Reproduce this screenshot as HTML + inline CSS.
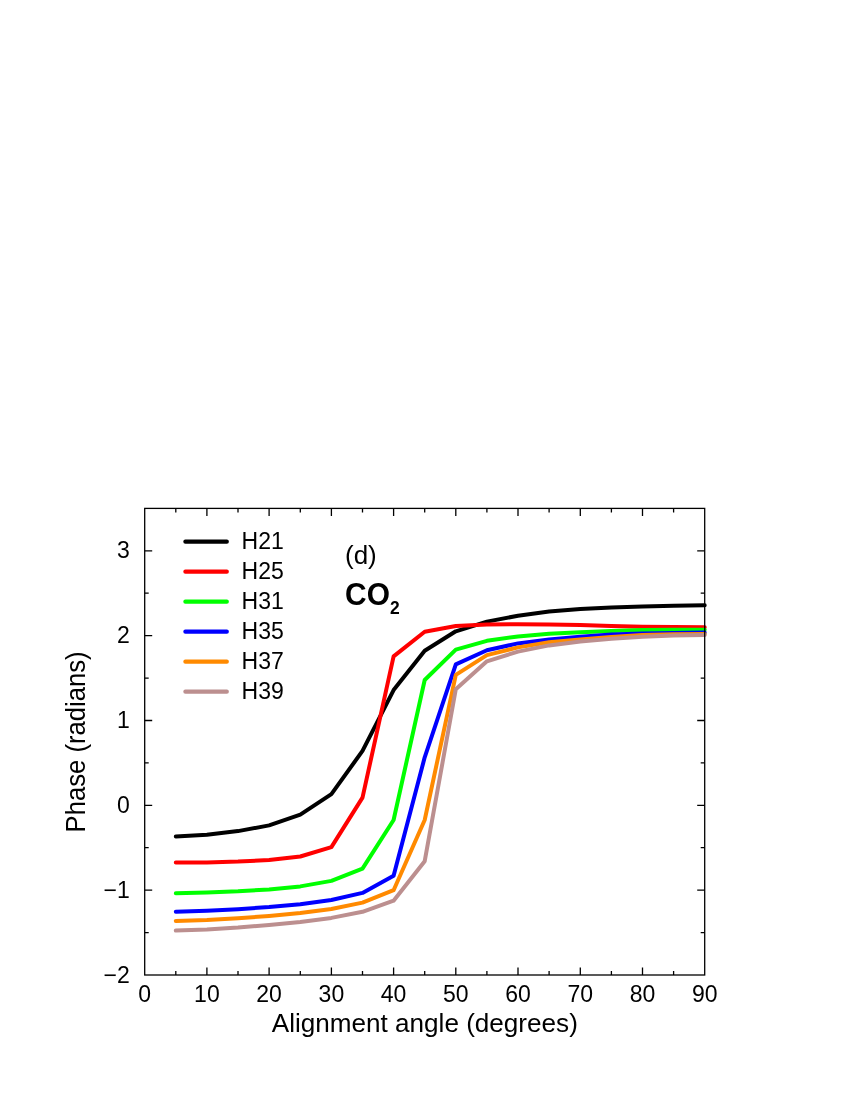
<!DOCTYPE html>
<html><head><meta charset="utf-8"><title>Phase vs alignment angle</title>
<style>
html,body{margin:0;padding:0;background:#fff;}
body{width:850px;height:1100px;overflow:hidden;font-family:"Liberation Sans",sans-serif;}
svg{display:block;will-change:transform;}
text{font-family:"Liberation Sans",sans-serif;fill:#000;}
</style></head><body>
<svg width="850" height="1100" viewBox="0 0 850 1100">
<rect x="0" y="0" width="850" height="1100" fill="#ffffff"/>
<g stroke="#000" stroke-width="1.30" fill="none" stroke-linecap="butt">
<path d="M175.8 975.0v-4.0M175.8 508.4v4.0"/>
<path d="M206.9 975.0v-7.5M206.9 508.4v7.5"/>
<path d="M238.0 975.0v-4.0M238.0 508.4v4.0"/>
<path d="M269.1 975.0v-7.5M269.1 508.4v7.5"/>
<path d="M300.3 975.0v-4.0M300.3 508.4v4.0"/>
<path d="M331.4 975.0v-7.5M331.4 508.4v7.5"/>
<path d="M362.5 975.0v-4.0M362.5 508.4v4.0"/>
<path d="M393.6 975.0v-7.5M393.6 508.4v7.5"/>
<path d="M424.7 975.0v-4.0M424.7 508.4v4.0"/>
<path d="M455.8 975.0v-7.5M455.8 508.4v7.5"/>
<path d="M486.9 975.0v-4.0M486.9 508.4v4.0"/>
<path d="M518.0 975.0v-7.5M518.0 508.4v7.5"/>
<path d="M549.1 975.0v-4.0M549.1 508.4v4.0"/>
<path d="M580.3 975.0v-7.5M580.3 508.4v7.5"/>
<path d="M611.4 975.0v-4.0M611.4 508.4v4.0"/>
<path d="M642.5 975.0v-7.5M642.5 508.4v7.5"/>
<path d="M673.6 975.0v-4.0M673.6 508.4v4.0"/>
<path d="M144.7 932.6h4.0M704.7 932.6h-4.0"/>
<path d="M144.7 890.2h7.5M704.7 890.2h-7.5"/>
<path d="M144.7 847.7h4.0M704.7 847.7h-4.0"/>
<path d="M144.7 805.3h7.5M704.7 805.3h-7.5"/>
<path d="M144.7 762.9h4.0M704.7 762.9h-4.0"/>
<path d="M144.7 720.5h7.5M704.7 720.5h-7.5"/>
<path d="M144.7 678.1h4.0M704.7 678.1h-4.0"/>
<path d="M144.7 635.6h7.5M704.7 635.6h-7.5"/>
<path d="M144.7 593.2h4.0M704.7 593.2h-4.0"/>
<path d="M144.7 550.8h7.5M704.7 550.8h-7.5"/>
</g>
<polyline points="175.8,836.5 206.9,834.8 238.0,831.1 269.1,825.4 300.3,814.6 331.4,794.1 362.5,750.9 393.6,690.1 424.7,650.8 455.8,631.3 486.9,621.6 518.0,615.7 549.1,611.6 580.3,609.1 611.4,607.4 642.5,606.4 673.6,605.7 704.7,605.3" fill="none" stroke="#000000" stroke-width="4.00" stroke-linecap="round" stroke-linejoin="round"/>
<polyline points="175.8,862.6 206.9,862.4 238.0,861.6 269.1,860.0 300.3,856.5 331.4,847.1 362.5,797.6 393.6,656.4 424.7,631.7 455.8,626.0 486.9,624.5 518.0,624.2 549.1,624.6 580.3,625.0 611.4,626.0 642.5,626.8 673.6,627.1 704.7,627.3" fill="none" stroke="#ff0000" stroke-width="4.00" stroke-linecap="round" stroke-linejoin="round"/>
<polyline points="175.8,893.2 206.9,892.5 238.0,891.3 269.1,889.4 300.3,886.4 331.4,880.9 362.5,868.7 393.6,820.0 424.7,680.0 455.8,649.6 486.9,640.8 518.0,636.4 549.1,633.8 580.3,632.2 611.4,630.9 642.5,630.0 673.6,629.8 704.7,629.7" fill="none" stroke="#00ff00" stroke-width="4.00" stroke-linecap="round" stroke-linejoin="round"/>
<polyline points="175.8,911.8 206.9,910.8 238.0,909.2 269.1,907.1 300.3,904.2 331.4,900.0 362.5,892.9 393.6,875.8 424.7,757.3 455.8,664.4 486.9,650.2 518.0,643.4 549.1,639.4 580.3,636.8 611.4,634.6 642.5,633.4 673.6,633.0 704.7,632.6" fill="none" stroke="#0000ff" stroke-width="4.00" stroke-linecap="round" stroke-linejoin="round"/>
<polyline points="175.8,920.9 206.9,920.1 238.0,918.3 269.1,916.0 300.3,913.0 331.4,909.0 362.5,902.6 393.6,890.2 424.7,820.0 455.8,674.9 486.9,655.1 518.0,647.4 549.1,642.3 580.3,639.4 611.4,637.0 642.5,635.1 673.6,634.2 704.7,633.9" fill="none" stroke="#ff8a00" stroke-width="4.00" stroke-linecap="round" stroke-linejoin="round"/>
<polyline points="175.8,930.6 206.9,929.4 238.0,927.5 269.1,924.9 300.3,921.9 331.4,917.9 362.5,911.8 393.6,900.7 424.7,861.2 455.8,689.2 486.9,661.3 518.0,651.6 549.1,645.4 580.3,641.4 611.4,638.7 642.5,636.7 673.6,635.6 704.7,634.9" fill="none" stroke="#bc8f8f" stroke-width="4.00" stroke-linecap="round" stroke-linejoin="round"/>
<rect x="144.7" y="508.4" width="560.0" height="466.6" fill="none" stroke="#000" stroke-width="1.30"/>
<line x1="185.4" y1="541.7" x2="226.8" y2="541.7" stroke="#000000" stroke-width="4.20" stroke-linecap="round"/>
<text x="241.6" y="549.4" font-size="23">H21</text>
<line x1="185.4" y1="571.7" x2="226.8" y2="571.7" stroke="#ff0000" stroke-width="4.20" stroke-linecap="round"/>
<text x="241.6" y="579.4" font-size="23">H25</text>
<line x1="185.4" y1="601.7" x2="226.8" y2="601.7" stroke="#00ff00" stroke-width="4.20" stroke-linecap="round"/>
<text x="241.6" y="609.4" font-size="23">H31</text>
<line x1="185.4" y1="631.7" x2="226.8" y2="631.7" stroke="#0000ff" stroke-width="4.20" stroke-linecap="round"/>
<text x="241.6" y="639.4" font-size="23">H35</text>
<line x1="185.4" y1="661.7" x2="226.8" y2="661.7" stroke="#ff8a00" stroke-width="4.20" stroke-linecap="round"/>
<text x="241.6" y="669.4" font-size="23">H37</text>
<line x1="185.4" y1="691.7" x2="226.8" y2="691.7" stroke="#bc8f8f" stroke-width="4.20" stroke-linecap="round"/>
<text x="241.6" y="699.4" font-size="23">H39</text>
<text x="144.7" y="1001.8" font-size="23.0" text-anchor="middle">0</text>
<text x="206.9" y="1001.8" font-size="23.0" text-anchor="middle">10</text>
<text x="269.1" y="1001.8" font-size="23.0" text-anchor="middle">20</text>
<text x="331.4" y="1001.8" font-size="23.0" text-anchor="middle">30</text>
<text x="393.6" y="1001.8" font-size="23.0" text-anchor="middle">40</text>
<text x="455.8" y="1001.8" font-size="23.0" text-anchor="middle">50</text>
<text x="518.0" y="1001.8" font-size="23.0" text-anchor="middle">60</text>
<text x="580.3" y="1001.8" font-size="23.0" text-anchor="middle">70</text>
<text x="642.5" y="1001.8" font-size="23.0" text-anchor="middle">80</text>
<text x="704.7" y="1001.8" font-size="23.0" text-anchor="middle">90</text>
<text x="129.8" y="982.5" font-size="23.0" text-anchor="end">−2</text>
<text x="129.8" y="897.7" font-size="23.0" text-anchor="end">−1</text>
<text x="129.8" y="812.8" font-size="23.0" text-anchor="end">0</text>
<text x="129.8" y="728.0" font-size="23.0" text-anchor="end">1</text>
<text x="129.8" y="643.1" font-size="23.0" text-anchor="end">2</text>
<text x="129.8" y="558.3" font-size="23.0" text-anchor="end">3</text>
<text x="424.8" y="1032.1" font-size="26.1" text-anchor="middle">Alignment angle (degrees)</text>
<text transform="translate(84.7,741.9) rotate(-90) scale(0.957,1)" font-size="26.8" text-anchor="middle">Phase (radians)</text>
<text x="345" y="563.8" font-size="26">(d)</text>
<text transform="translate(345.1,605.3) scale(0.945,1)" font-size="31.6" font-weight="bold">CO<tspan font-size="18.5" dy="8.2">2</tspan></text>
</svg>
</body></html>
